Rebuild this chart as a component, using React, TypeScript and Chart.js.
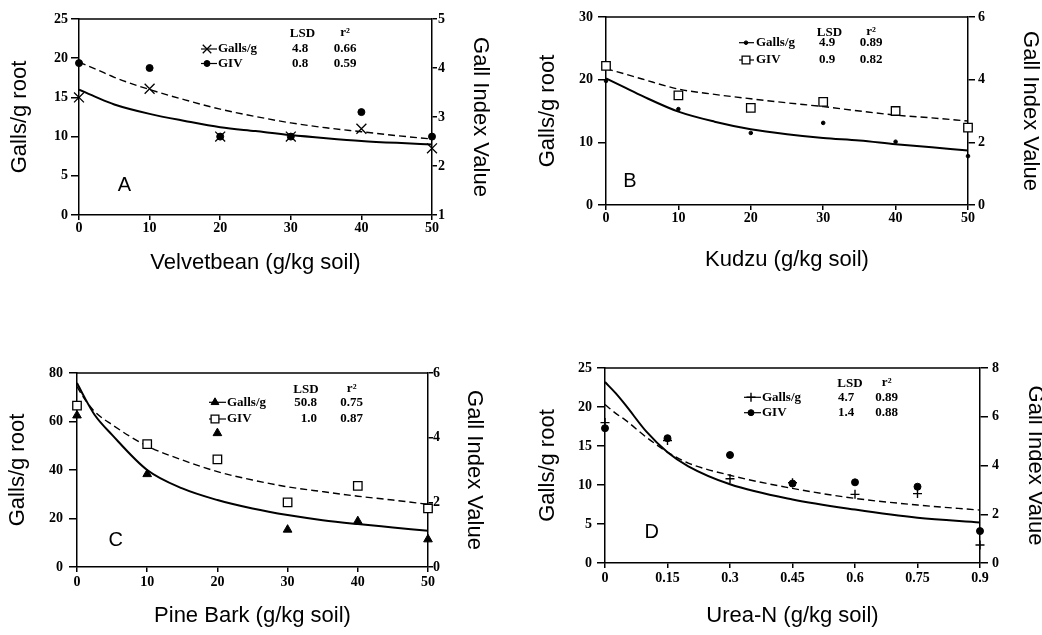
import React, { useEffect, useRef } from 'react';
import { Chart, registerables } from 'chart.js';

Chart.register(...registerables);

// ---------------- Panel A : Velvetbean ----------------
const xA = [0, 10, 20, 30, 40, 50];
const gallsA = [15, 16.1, 10, 10, 11, 8.5];
const givA = [4.1, 4.0, 2.6, 2.6, 3.1, 2.6];
const fitXA = [0, 2.5, 5, 10, 15, 20, 25, 30, 35, 40, 45, 50];
const gallsFitA = [16.0, 15.0, 14.1, 12.9, 12.0, 11.2, 10.7, 10.2, 9.8, 9.45, 9.2, 9.0];
const givFitA = [4.12, 3.97, 3.81, 3.56, 3.35, 3.16, 3.01, 2.88, 2.78, 2.7, 2.62, 2.55];
const xTicksA = [0, 10, 20, 30, 40, 50];
const leftTicksA = [0, 5, 10, 15, 20, 25];
const rightTicksA = [1, 2, 3, 4, 5];
const lsdA = ['4.8', '0.8'];
const r2A = ['0.66', '0.59'];

// ---------------- Panel B : Kudzu ----------------
const xB = [0, 10, 20, 30, 40, 50];
const gallsB = [19.8, 15.3, 11.5, 13.1, 10.1, 7.8];
const givB = [4.44, 3.5, 3.1, 3.29, 3.0, 2.47];
const fitXB = [0, 2.5, 5, 10, 15, 20, 25, 30, 35, 40, 45, 50];
const gallsFitB = [20.2, 18.8, 17.4, 14.9, 13.3, 12.1, 11.3, 10.7, 10.3, 9.7, 9.2, 8.7];
const givFitB = [4.35, 4.19, 4.02, 3.7, 3.53, 3.39, 3.26, 3.14, 3.0, 2.87, 2.78, 2.68];
const xTicksB = [0, 10, 20, 30, 40, 50];
const leftTicksB = [0, 10, 20, 30];
const rightTicksB = [0, 2, 4, 6];
const lsdB = ['4.9', '0.9'];
const r2B = ['0.89', '0.82'];

// ---------------- Panel C : Pine Bark ----------------
const xC = [0, 10, 20, 30, 40, 50];
const gallsC = [62.5, 38.3, 55.2, 15.4, 18.9, 11.4];
const givC = [4.99, 3.8, 3.33, 2.0, 2.51, 1.81];
const fitXC = [0, 1, 2.5, 5, 10, 15, 20, 25, 30, 35, 40, 45, 50];
const gallsFitC = [75.9, 70.3, 62.8, 54.5, 40, 32.4, 27.6, 24.1, 21.4, 19.3, 17.7, 16.3, 14.9];
const givFitC = [5.58, 5.22, 4.81, 4.4, 3.74, 3.31, 2.95, 2.69, 2.48, 2.33, 2.19, 2.07, 1.94];
const xTicksC = [0, 10, 20, 30, 40, 50];
const leftTicksC = [0, 20, 40, 60, 80];
const rightTicksC = [0, 2, 4, 6];
const lsdC = ['50.8', '1.0'];
const r2C = ['0.75', '0.87'];

// ---------------- Panel D : Urea-N ----------------
const xD = [0, 0.15, 0.3, 0.45, 0.6, 0.75, 0.9];
const gallsD = [18.0, 15.7, 10.8, 10.3, 8.8, 8.9, 2.3];
const givD = [5.53, 5.12, 4.43, 3.26, 3.31, 3.13, 1.31];
const fitXD = [0, 0.025, 0.05, 0.1, 0.15, 0.2, 0.3, 0.45, 0.6, 0.75, 0.9];
const gallsFitD = [23.2, 21.8, 20.2, 16.8, 14.2, 12.4, 10.1, 8.15, 6.85, 5.8, 5.2];
const givFitD = [6.5, 6.15, 5.85, 5.15, 4.55, 4.1, 3.6, 3.06, 2.65, 2.38, 2.17];
const xTicksD = [0, 0.15, 0.3, 0.45, 0.6, 0.75, 0.9];
const leftTicksD = [0, 5, 10, 15, 20, 25];
const rightTicksD = [0, 2, 4, 6, 8];
const lsdD = ['4.7', '1.4'];
const r2D = ['0.89', '0.88'];

const seriesLabels = ['Galls/g', 'GIV'];

type Mark = { style: string; r: number; fill: string; bw: number };

const pts = (xs: number[], ys: number[]) => xs.map((x, i) => ({ x, y: ys[i] }));

const panels: any[] = [
  {
    key: 'A', left: 0, top: 0, w: 520, h: 300,
    padTop: 19, leftW: 79, rightW: 88, xH: 85,
    xMin: 0, xMax: 50, xTicks: xTicksA, xTitle: 'Velvetbean (g/kg soil)',
    yMin: 0, yMax: 25, yTicks: leftTicksA, y2Min: 1, y2Max: 5, y2Ticks: rightTicksA,
    xTick: [5, 0], yTick: [8, 3], y2Tick: [5, 1],
    titlePad: { x: 26, y: 9, y2: 29 },
    x: xA, galls: gallsA, giv: givA, fitX: fitXA, gallsFit: gallsFitA, givFit: givFitA,
    gMark: { style: 'crossRot', r: 7, fill: '#000', bw: 1.3 },
    vMark: { style: 'circle', r: 3.5, fill: '#000', bw: 1 },
    lsd: lsdA, r2: r2A,
    letter: 'A', letterX: 124.5, letterY: 185,
    leg: { headY: 34, lsdHeadX: 302.5, lsdX: 300, lsdAlign: 'center', r2X: 345, rowsY: [49, 63.5], markX: 207, line: [201, 217], textX: 218 },
  },
  {
    key: 'B', left: 520, top: 0, w: 522, h: 300,
    padTop: 17, leftW: 86, rightW: 74, xH: 95,
    xMin: 0, xMax: 50, xTicks: xTicksB, xTitle: 'Kudzu (g/kg soil)',
    yMin: 0, yMax: 30, yTicks: leftTicksB, y2Min: 0, y2Max: 6, y2Ticks: rightTicksB,
    xTick: [5, 0], yTick: [8, 5], y2Tick: [7, 3],
    titlePad: { x: 29, y: 17, y2: 1 },
    x: xB, galls: gallsB, giv: givB, fitX: fitXB, gallsFit: gallsFitB, givFit: givFitB,
    gMark: { style: 'circle', r: 1.8, fill: '#000', bw: 1 },
    vMark: { style: 'rect', r: 6, fill: '#fff', bw: 1.3 },
    lsd: lsdB, r2: r2B,
    letter: 'B', letterX: 110, letterY: 181.7,
    leg: { headY: 32.5, lsdHeadX: 309.5, lsdX: 307, lsdAlign: 'center', r2X: 351, rowsY: [42.7, 60], markX: 226, line: [219, 234], textX: 236 },
  },
  {
    key: 'C', left: 0, top: 330, w: 520, h: 305,
    padTop: 43, leftW: 77, rightW: 92, xH: 68,
    xMin: 0, xMax: 50, xTicks: xTicksC, xTitle: 'Pine Bark (g/kg soil)',
    yMin: 0, yMax: 80, yTicks: leftTicksC, y2Min: 0, y2Max: 6, y2Ticks: rightTicksC,
    xTick: [5, 2], yTick: [8, 6], y2Tick: [5, 0],
    titlePad: { x: 8, y: 7, y2: 35 },
    x: xC, galls: gallsC, giv: givC, fitX: fitXC, gallsFit: gallsFitC, givFit: givFitC,
    gMark: { style: 'triangle', r: 5, fill: '#000', bw: 1 },
    vMark: { style: 'rect', r: 6, fill: '#fff', bw: 1.3 },
    lsd: lsdC, r2: r2C,
    letter: 'C', letterX: 115.8, letterY: 210,
    leg: { headY: 60, lsdHeadX: 306, lsdX: 317, lsdAlign: 'right', r2X: 351.7, rowsY: [72.3, 89], markX: 215, line: [209, 226], textX: 227 },
  },
  {
    key: 'D', left: 520, top: 330, w: 522, h: 305,
    padTop: 38, leftW: 85, rightW: 62, xH: 72,
    xMin: 0, xMax: 0.9, xTicks: xTicksD, xTitle: 'Urea-N (g/kg soil)',
    yMin: 0, yMax: 25, yTicks: leftTicksD, y2Min: 0, y2Max: 8, y2Ticks: rightTicksD,
    xTick: [5, 2], yTick: [8, 5], y2Tick: [8, 4],
    titlePad: { x: 8, y: 17, y2: -4 },
    x: xD, galls: gallsD, giv: givD, fitX: fitXD, gallsFit: gallsFitD, givFit: givFitD,
    gMark: { style: 'cross', r: 4.5, fill: '#000', bw: 1.4 },
    vMark: { style: 'circle', r: 3.5, fill: '#000', bw: 1 },
    lsd: lsdD, r2: r2D,
    letter: 'D', letterX: 131.7, letterY: 202.5,
    leg: { headY: 53.3, lsdHeadX: 330, lsdX: 326, lsdAlign: 'center', r2X: 366.7, rowsY: [67.3, 82.7], markX: 231, line: [224, 241], textX: 242 },
  },
];

function drawMark(ctx: CanvasRenderingContext2D, m: Mark, x: number, y: number, r: number) {
  ctx.save();
  ctx.strokeStyle = '#000';
  ctx.fillStyle = m.fill;
  ctx.lineWidth = m.bw;
  ctx.beginPath();
  if (m.style === 'circle') {
    ctx.arc(x, y, r, 0, Math.PI * 2);
    ctx.fill();
    ctx.stroke();
  } else if (m.style === 'rect') {
    const s = r * Math.SQRT1_2;
    ctx.rect(x - s, y - s, 2 * s, 2 * s);
    ctx.fill();
    ctx.stroke();
  } else if (m.style === 'triangle') {
    ctx.moveTo(x, y - r);
    ctx.lineTo(x + r * 0.866, y + r * 0.5);
    ctx.lineTo(x - r * 0.866, y + r * 0.5);
    ctx.closePath();
    ctx.fill();
    ctx.stroke();
  } else if (m.style === 'crossRot') {
    const s = r * Math.SQRT1_2;
    ctx.moveTo(x - s, y - s); ctx.lineTo(x + s, y + s);
    ctx.moveTo(x - s, y + s); ctx.lineTo(x + s, y - s);
    ctx.stroke();
  } else if (m.style === 'cross') {
    ctx.moveTo(x - r, y); ctx.lineTo(x + r, y);
    ctx.moveTo(x, y - r); ctx.lineTo(x, y + r);
    ctx.stroke();
  }
  ctx.restore();
}

function decoPlugin(p: any) {
  return {
    id: 'deco' + p.key,
    afterDraw(chart: any) {
      const ctx: CanvasRenderingContext2D = chart.ctx;
      const a = chart.chartArea;
      ctx.save();
      ctx.strokeStyle = '#000';
      ctx.lineWidth = 1.5;
      ctx.beginPath();
      ctx.moveTo(a.left, a.top);
      ctx.lineTo(a.right, a.top);
      ctx.stroke();

      ctx.fillStyle = '#000';
      ctx.textBaseline = 'middle';
      ctx.textAlign = 'center';
      ctx.font = "20px 'Liberation Sans', Arial, sans-serif";
      ctx.fillText(p.letter, p.letterX, p.letterY);

      const L = p.leg;
      ctx.font = "bold 13px 'Liberation Serif', 'Times New Roman', serif";
      ctx.fillText('LSD', L.lsdHeadX, L.headY);
      ctx.fillText('r\u00B2', L.r2X, L.headY - 1);
      const marks: Mark[] = [p.gMark, p.vMark];
      for (let i = 0; i < 2; i++) {
        const y = L.rowsY[i];
        ctx.strokeStyle = '#000';
        ctx.lineWidth = 1.2;
        ctx.beginPath();
        ctx.moveTo(L.line[0], y);
        ctx.lineTo(L.line[1], y);
        ctx.stroke();
        const m = marks[i];
        const lr = m.style === 'circle' ? Math.min(m.r, 3) : m.style === 'rect' ? 5.5 : m.style === 'crossRot' ? 6 : 4.5;
        drawMark(ctx, m, L.markX, y, m.style === 'circle' && m.r < 2 ? 1.8 : lr);
        ctx.fillStyle = '#000';
        ctx.textAlign = 'left';
        ctx.fillText(seriesLabels[i], L.textX, y);
        ctx.textAlign = L.lsdAlign;
        ctx.fillText(p.lsd[i], L.lsdX, y);
        ctx.textAlign = 'center';
        ctx.fillText(p.r2[i], L.r2X, y);
      }
      ctx.restore();
    },
  };
}

function makeConfig(p: any): any {
  const tickFont = { family: "'Liberation Serif', 'Times New Roman', serif", size: 14, weight: 'bold' };
  const titleFont = { family: "'Liberation Sans', Arial, sans-serif", size: 22, lineHeight: 1 };
  const setTicks = (arr: number[]) => (s: any) => {
    s.ticks = arr.map((v) => ({ value: v }));
  };
  const axis = (tick: number[]) => ({
    grid: { drawOnChartArea: false, drawTicks: true, tickLength: tick[0], color: '#000', lineWidth: 1.5 },
    border: { display: true, color: '#000', width: 1.5 },
    ticks: {
      font: tickFont, color: '#000', padding: tick[1], autoSkip: false, maxRotation: 0, minRotation: 0,
      callback: (v: any) => String(v),
    },
  });
  const markDs = (ys: number[], m: Mark, axisId: string) => ({
    data: pts(p.x, ys),
    yAxisID: axisId,
    showLine: false,
    pointStyle: m.style,
    pointRadius: m.r,
    pointBackgroundColor: m.fill,
    pointBorderColor: '#000',
    pointBorderWidth: m.bw,
    clip: false,
  });
  const lineDs = (ys: number[], axisId: string, dash: number[], width: number) => ({
    data: pts(p.fitX, ys),
    yAxisID: axisId,
    showLine: true,
    borderColor: '#000',
    borderWidth: width,
    borderDash: dash,
    pointRadius: 0,
    cubicInterpolationMode: 'monotone',
    fill: false,
  });
  return {
    type: 'scatter',
    data: {
      datasets: [
        markDs(p.galls, p.gMark, 'y'),
        markDs(p.giv, p.vMark, 'y2'),
        lineDs(p.gallsFit, 'y', [], 2),
        lineDs(p.givFit, 'y2', [7, 4], 1.4),
      ],
    },
    options: {
      responsive: false,
      animation: false,
      devicePixelRatio: 1,
      events: [],
      layout: { padding: { top: p.padTop, left: 0, right: 0, bottom: 0 } },
      plugins: { legend: { display: false }, tooltip: { enabled: false } },
      scales: {
        x: {
          type: 'linear', position: 'bottom', min: p.xMin, max: p.xMax,
          afterBuildTicks: setTicks(p.xTicks),
          afterFit: (s: any) => { s.height = p.xH; },
          ...axis(p.xTick),
          title: { display: true, text: p.xTitle, font: titleFont, color: '#000', padding: { top: 0, bottom: p.titlePad.x } },
        },
        y: {
          type: 'linear', position: 'left', min: p.yMin, max: p.yMax,
          afterBuildTicks: setTicks(p.yTicks),
          afterFit: (s: any) => { s.width = p.leftW; },
          ...axis(p.yTick),
          title: { display: true, text: 'Galls/g root', font: titleFont, color: '#000', padding: { top: p.titlePad.y, bottom: 0 } },
        },
        y2: {
          type: 'linear', position: 'right', min: p.y2Min, max: p.y2Max,
          afterBuildTicks: setTicks(p.y2Ticks),
          afterFit: (s: any) => { s.width = p.rightW; },
          ...axis(p.y2Tick),
          title: { display: true, text: 'Gall Index Value', font: titleFont, color: '#000', padding: { top: p.titlePad.y2, bottom: 0 } },
        },
      },
    },
    plugins: [decoPlugin(p)],
  };
}

function Panel({ p }: { p: any }) {
  const ref = useRef<HTMLCanvasElement>(null);
  useEffect(() => {
    if (!ref.current) return;
    const chart = new Chart(ref.current, makeConfig(p));
    return () => chart.destroy();
  }, [p]);
  return (
    <canvas
      ref={ref}
      width={p.w}
      height={p.h}
      style={{ position: 'absolute', left: p.left, top: p.top, width: p.w, height: p.h }}
    />
  );
}

export default function App() {
  return (
    <div style={{ position: 'absolute', left: 0, top: 0, width: 1042, height: 635, background: '#fff', overflow: 'hidden' }}>
      {panels.map((p) => (
        <Panel key={p.key} p={p} />
      ))}
    </div>
  );
}
